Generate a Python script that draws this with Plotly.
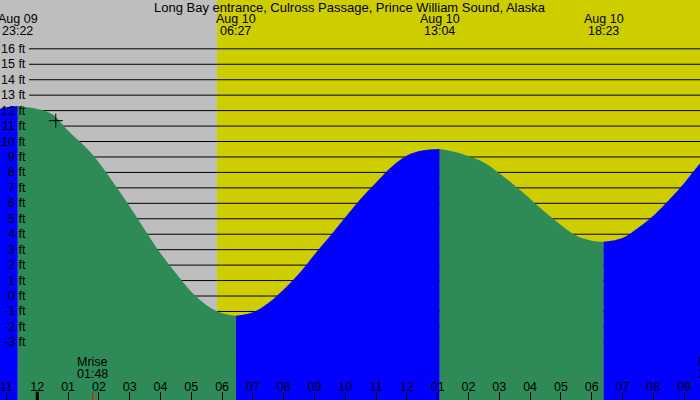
import plotly.graph_objects as go

TITLE = "Long Bay entrance, Culross Passage, Prince William Sound, Alaska"

# tide curve (feet), half-hour steps plus the extremes
tide_times = [
    "2024-08-09 22:30", "2024-08-09 23:00", "2024-08-09 23:22",
    "2024-08-10 00:00", "2024-08-10 00:30", "2024-08-10 01:00", "2024-08-10 01:30",
    "2024-08-10 02:00", "2024-08-10 02:30", "2024-08-10 03:00", "2024-08-10 03:30",
    "2024-08-10 04:00", "2024-08-10 04:30", "2024-08-10 05:00", "2024-08-10 05:30",
    "2024-08-10 06:00", "2024-08-10 06:27",
    "2024-08-10 07:00", "2024-08-10 07:30", "2024-08-10 08:00", "2024-08-10 08:30",
    "2024-08-10 09:00", "2024-08-10 09:30", "2024-08-10 10:00", "2024-08-10 10:30",
    "2024-08-10 11:00", "2024-08-10 11:30", "2024-08-10 12:00", "2024-08-10 12:30",
    "2024-08-10 13:04",
    "2024-08-10 13:30", "2024-08-10 14:00", "2024-08-10 14:30", "2024-08-10 15:00",
    "2024-08-10 15:30", "2024-08-10 16:00", "2024-08-10 16:30", "2024-08-10 17:00",
    "2024-08-10 17:30", "2024-08-10 18:00", "2024-08-10 18:23",
    "2024-08-10 19:00", "2024-08-10 19:30", "2024-08-10 20:00", "2024-08-10 20:30",
    "2024-08-10 21:00", "2024-08-10 21:30", "2024-08-10 22:00",
]
tide_heights = [
    11.95, 12.22, 12.30,
    12.10, 11.75, 10.70, 9.77,
    8.65, 7.25, 5.80, 4.26,
    2.77, 1.47, 0.28, -0.60,
    -1.12, -1.27,
    -1.05, -0.45, 0.42, 1.45,
    2.69, 3.87, 5.10, 6.30,
    7.35, 8.35, 9.10, 9.42,
    9.51,
    9.35, 9.05, 8.65, 7.95,
    7.15, 6.30, 5.40, 4.60,
    3.90, 3.58, 3.51,
    3.76, 4.40, 5.20, 6.20,
    7.30, 8.55, 9.60,
]

extreme_times = ["2024-08-09 23:22", "2024-08-10 06:27", "2024-08-10 13:04", "2024-08-10 18:23"]
extreme_dates = ["Aug 09", "Aug 10", "Aug 10", "Aug 10"]
extreme_clock = ["23:22", "06:27", "13:04", "18:23"]

sunrise = "2024-08-10 05:50"
midnight = "2024-08-10 00:00"
moonrise = "2024-08-10 01:48"
moonset = "21:52"

mark_time = ["2024-08-10 00:36"]
mark_height = [11.35]

ft_levels = list(range(-3, 17))

x_range = ["2024-08-09 22:47:20", "2024-08-10 21:31:00"]
y_range = [-6.73, 19.16]

FONT = "Liberation Sans, Arial, sans-serif"
RISE = "#0000FF"
FALL = "#2E8B57"
NIGHT = "#BEBEBE"
DAY = "#CDCD00"

fig = go.Figure()

# split the curve at each high/low so flood and ebb get their own colour
bounds = [tide_times[0]] + extreme_times + [tide_times[-1]]
for b0, b1 in zip(bounds[:-1], bounds[1:]):
    seg = [(t, h) for t, h in zip(tide_times, tide_heights) if b0 <= t <= b1]
    xs = [p[0] for p in seg]
    ys = [p[1] for p in seg]
    color = RISE if ys[-1] > ys[0] else FALL
    fig.add_trace(go.Scatter(
        x=[xs[0], xs[-1]], y=[y_range[0] - 5, y_range[0] - 5],
        mode="lines", line=dict(width=0), hoverinfo="skip"
    ))
    fig.add_trace(go.Scatter(
        x=xs, y=ys, mode="lines", line=dict(width=0, shape="spline"),
        fill="tonexty", fillcolor=color, hoverinfo="skip"
    ))

fig.add_trace(go.Scatter(
    x=mark_time, y=mark_height, mode="markers",
    marker=dict(symbol="cross-thin", size=10, line=dict(width=1, color="black"))
))

shapes = [
    dict(type="rect", xref="x", yref="paper", x0="2024-08-09 12:00", x1=sunrise,
         y0=0, y1=1, fillcolor=NIGHT, line=dict(width=0), layer="below"),
    dict(type="rect", xref="x", yref="paper", x0=sunrise, x1="2024-08-11 00:00",
         y0=0, y1=1, fillcolor=DAY, line=dict(width=0), layer="below"),
]
for ft in ft_levels:
    shapes.append(dict(type="line", xref="paper", yref="y", x0=29 / 700, x1=1,
                       y0=ft, y1=ft, line=dict(color="black", width=1), layer="below"))
shapes.append(dict(type="line", xref="x", yref="paper", x0=midnight, x1=midnight,
                   y0=0, y1=8.5 / 400, line=dict(color="black", width=3)))
shapes.append(dict(type="line", xref="x", yref="paper", x0=moonrise, x1=moonrise,
                   y0=0, y1=8 / 400, line=dict(color="red", width=1)))

annotations = [dict(text=TITLE, xref="paper", yref="paper", x=0.5, y=1 - 7.5 / 400,
                    yanchor="middle", showarrow=False, font=dict(size=13))]
for ft in ft_levels:
    annotations.append(dict(text=f"{ft} ft", xref="paper", yref="y", x=28 / 700, y=ft,
                            xanchor="right", yanchor="middle", showarrow=False))
for t, d, c in zip(extreme_times, extreme_dates, extreme_clock):
    annotations.append(dict(text=d, x=t, xref="x", yref="paper", y=1 - 19.5 / 400,
                            yanchor="middle", showarrow=False))
    annotations.append(dict(text=c, x=t, xref="x", yref="paper", y=1 - 31.5 / 400,
                            yanchor="middle", showarrow=False))
annotations.append(dict(text="Mrise", x=moonrise, xref="x", yref="paper", y=1 - 361.5 / 400,
                        yanchor="middle", showarrow=False))
annotations.append(dict(text=moonrise[-5:], x=moonrise, xref="x", yref="paper", y=1 - 373.5 / 400,
                        yanchor="middle", showarrow=False))
# moonset falls just past the right edge, only its first letters show
annotations.append(dict(text="Mset", x=x_range[1], xref="x", yref="paper", y=1 - 361.5 / 400,
                        xanchor="left", xshift=-4, yanchor="middle", showarrow=False))
annotations.append(dict(text=moonset, x=x_range[1], xref="x", yref="paper", y=1 - 373.5 / 400,
                        xanchor="left", xshift=-4, yanchor="middle", showarrow=False))

fig.update_layout(
    width=700, height=400,
    margin=dict(l=0, r=0, t=0, b=0),
    showlegend=False,
    hovermode=False,
    font=dict(family=FONT, size=12.5, color="black"),
    paper_bgcolor="white",
    plot_bgcolor="white",
    shapes=shapes,
    annotations=annotations,
    xaxis=dict(
        type="date", range=x_range, showgrid=False, zeroline=False, showline=False,
        ticks="inside", ticklen=8, tickwidth=1, tickcolor="black",
        dtick=3600000, tickformat="%I", ticklabelposition="inside",
        ticklabelstandoff=-2,
        tickfont=dict(size=12.5, color="black"),
    ),
    yaxis=dict(range=y_range, visible=False, fixedrange=True),
)

# page body has an 8px default margin; drop it so the chart fills the window
fig.write_html("out.html", config={"displayModeBar": False, "staticPlot": True},
               post_script="document.body.style.margin='0';")
